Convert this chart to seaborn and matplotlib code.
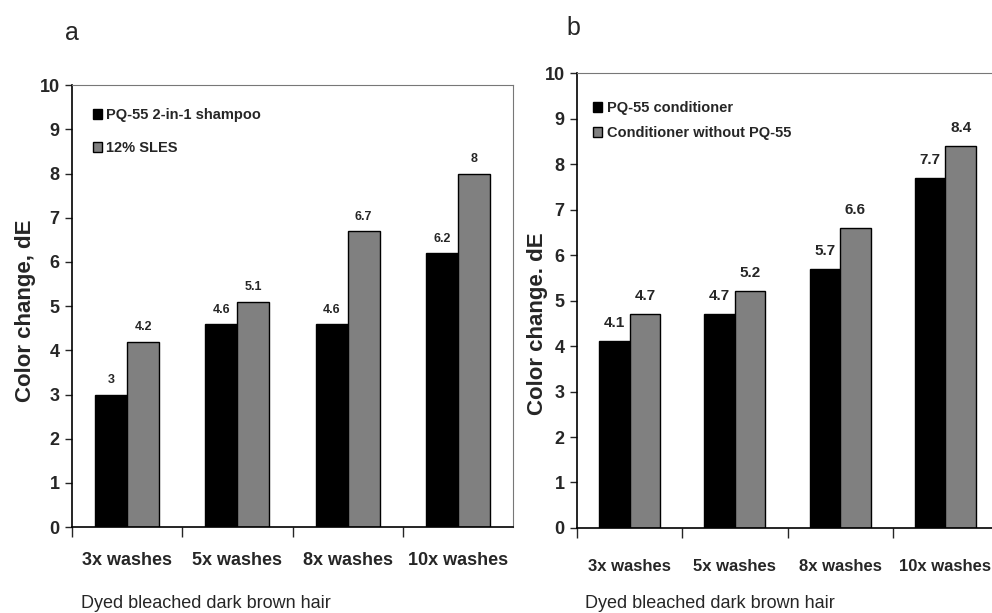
import pandas as pd
import seaborn as sns
import matplotlib.pyplot as plt

# data
washes = ['3x washes', '5x washes', '8x washes', '10x washes']

a_series = ['PQ-55 2-in-1 shampoo', '12% SLES']
a_pq55 = [3, 4.6, 4.6, 6.2]
a_sles = [4.2, 5.1, 6.7, 8]

b_series = ['PQ-55 conditioner', 'Conditioner without PQ-55']
b_pq55 = [4.1, 4.7, 5.7, 7.7]
b_nopq = [4.7, 5.2, 6.6, 8.4]

sns.set_style('ticks')
FONT = ['Liberation Sans', 'DejaVu Sans']
plt.rcParams['font.family'] = FONT

fig = plt.figure(figsize=(9.92, 6.13), dpi=100)
ax_a = fig.add_axes([0.0726, 0.140, 0.4446, 0.721])
ax_b = fig.add_axes([0.5817, 0.1387, 0.4244, 0.742])


def long_form(series, v1, v2):
    return pd.DataFrame({
        'wash': washes * 2,
        'series': [series[0]] * 4 + [series[1]] * 4,
        'value': v1 + v2,
    })


def draw(ax, df, series, ylab, ylab_xy, lab_size, lab_pad,
         xsize, xpad, leg_xy, leg_size, leg_gap):
    sns.barplot(data=df, x='wash', y='value', hue='series', hue_order=series,
                palette=['black', '#808080'], width=0.58, gap=0,
                edgecolor='black', linewidth=1, ax=ax, legend=True)
    for cont in ax.containers:
        ax.bar_label(cont, fmt='%g', padding=lab_pad, fontsize=lab_size,
                     fontweight='bold')
    ax.set_xlim(-0.5, 3.5)
    ax.set_ylim(0, 10)
    ax.set_yticks(range(0, 11))
    ax.tick_params(axis='y', length=5, width=1, labelsize=13, pad=4)
    for t in ax.get_yticklabels():
        t.set_fontweight('bold')
    # category boundaries as major ticks, labels on minor ticks
    ax.set_xticks([-0.5, 0.5, 1.5, 2.5])
    ax.set_xticklabels([])
    ax.set_xticks(range(4), minor=True)
    ax.set_xticklabels(washes, minor=True, fontsize=xsize, fontweight='bold')
    ax.tick_params(axis='x', which='major', length=7, width=1)
    ax.tick_params(axis='x', which='minor', length=0, pad=xpad)
    ax.set_xlabel('')
    ax.set_ylabel(ylab, fontsize=16, fontweight='bold')
    ax.yaxis.set_label_coords(*ylab_xy)
    for side in ['top', 'right']:
        ax.spines[side].set_color('#777777')
        ax.spines[side].set_linewidth(0.8)
    for side in ['left', 'bottom']:
        ax.spines[side].set_color('black')
        ax.spines[side].set_linewidth(1.2)
    ax.legend(loc='upper left', bbox_to_anchor=leg_xy, frameon=False,
              handlelength=0.6, handleheight=0.7, handletextpad=0.3,
              labelspacing=leg_gap, borderaxespad=0,
              prop={'weight': 'bold', 'size': leg_size})


draw(ax_a, long_form(a_series, a_pq55, a_sles), a_series, 'Color change, dE',
     (-0.082, 0.49), 9, 6, 13, 18, (0.035, 0.962), 10.5, 1.3)
draw(ax_b, long_form(b_series, b_pq55, b_nopq), b_series, 'Color change. dE',
     (-0.068, 0.45), 11, 8, 12, 22, (0.025, 0.952), 10.5, 0.8)

fig.text(0.066, 0.935, 'a', fontsize=18)
fig.text(0.571, 0.943, 'b', fontsize=18)
fig.text(0.082, 0.008, 'Dyed bleached dark brown hair', fontsize=13)
fig.text(0.590, 0.008, 'Dyed bleached dark brown hair', fontsize=13)

fig.savefig('out.png', dpi=100)
